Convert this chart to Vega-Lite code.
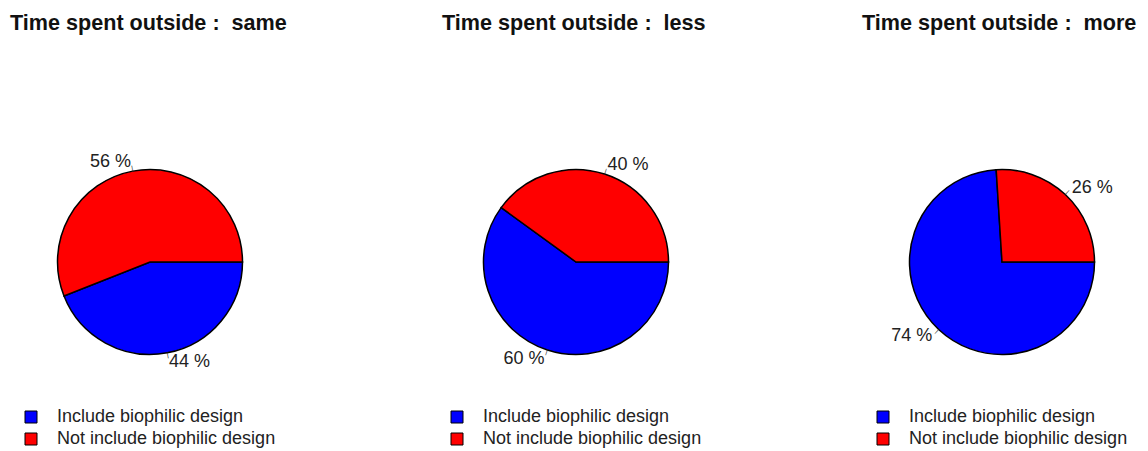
{
  "$schema": "https://vega.github.io/schema/vega-lite/v6.json",
  "padding": {"left": 10, "top": 13, "right": 0, "bottom": 0},
  "bounds": "flush",
  "spacing": 146,
  "data": {"values": [
    {"group": "same", "category": "Include biophilic design", "value": 44, "label": "44 %"},
    {"group": "same", "category": "Not include biophilic design", "value": 56, "label": "56 %"},
    {"group": "less", "category": "Include biophilic design", "value": 60, "label": "60 %"},
    {"group": "less", "category": "Not include biophilic design", "value": 40, "label": "40 %"},
    {"group": "more", "category": "Include biophilic design", "value": 74, "label": "74 %"},
    {"group": "more", "category": "Not include biophilic design", "value": 26, "label": "26 %"}
  ]},
  "hconcat": [
    {
      "title": {"text": "Time spent outside :\u00a0 same", "dx": 0},
      "width": 280, "height": 364,
      "transform": [{"filter": "datum.group === 'same'"}],
      "encoding": {
        "theta": {"field": "value", "type": "quantitative", "stack": true, "scale": {"domain": [0, 100], "range": [1.5707963, -4.712389]}},
        "order": {"field": "category", "type": "ordinal", "sort": "descending"},
        "color": {"field": "category", "type": "nominal", "scale": {"domain": ["Include biophilic design", "Not include biophilic design"], "range": ["#0000ff", "#ff0000"]}, "legend": {"orient": "none", "legendX": 12, "legendY": 328}}
      },
      "layer": [
        {"mark": {"type": "arc", "outerRadius": 92.5, "stroke": "black", "strokeWidth": 1.5}},
        {"mark": {"type": "text", "radius": 95, "text": "|", "fontSize": 7, "baseline": "middle", "align": "center", "angle": {"expr": "datum.category === 'Include biophilic design' ? 90 + 1.8*datum.value : 90 - 1.8*datum.value"}}, "encoding": {"color": {"value": "#222"}}},
        {"mark": {"type": "text", "radius": 101.75, "fontSize": 18, "baseline": "middle", "align": {"expr": "sin((datum.category === 'Include biophilic design' ? 90 + 1.8*datum.value : 90 - 1.8*datum.value)*PI/180) < 0 ? 'right' : 'left'"}}, "encoding": {"text": {"field": "label"}, "color": {"value": "#222"}}}
      ]
    },
    {
      "title": {"text": "Time spent outside :\u00a0 less", "dx": 6},
      "width": 280, "height": 364,
      "transform": [{"filter": "datum.group === 'less'"}],
      "encoding": {
        "theta": {"field": "value", "type": "quantitative", "stack": true, "scale": {"domain": [0, 100], "range": [1.5707963, -4.712389]}},
        "order": {"field": "category", "type": "ordinal", "sort": "descending"},
        "color": {"field": "category", "type": "nominal", "scale": {"domain": ["Include biophilic design", "Not include biophilic design"], "range": ["#0000ff", "#ff0000"]}, "legend": {"orient": "none", "legendX": 12, "legendY": 328}}
      },
      "layer": [
        {"mark": {"type": "arc", "outerRadius": 92.5, "stroke": "black", "strokeWidth": 1.5}},
        {"mark": {"type": "text", "radius": 95, "text": "|", "fontSize": 7, "baseline": "middle", "align": "center", "angle": {"expr": "datum.category === 'Include biophilic design' ? 90 + 1.8*datum.value : 90 - 1.8*datum.value"}}, "encoding": {"color": {"value": "#222"}}},
        {"mark": {"type": "text", "radius": 101.75, "fontSize": 18, "baseline": "middle", "align": {"expr": "sin((datum.category === 'Include biophilic design' ? 90 + 1.8*datum.value : 90 - 1.8*datum.value)*PI/180) < 0 ? 'right' : 'left'"}}, "encoding": {"text": {"field": "label"}, "color": {"value": "#222"}}}
      ]
    },
    {
      "title": {"text": "Time spent outside :\u00a0 more", "dx": 0},
      "width": 280, "height": 364,
      "transform": [{"filter": "datum.group === 'more'"}],
      "encoding": {
        "theta": {"field": "value", "type": "quantitative", "stack": true, "scale": {"domain": [0, 100], "range": [1.5707963, -4.712389]}},
        "order": {"field": "category", "type": "ordinal", "sort": "descending"},
        "color": {"field": "category", "type": "nominal", "scale": {"domain": ["Include biophilic design", "Not include biophilic design"], "range": ["#0000ff", "#ff0000"]}, "legend": {"orient": "none", "legendX": 12, "legendY": 328}}
      },
      "layer": [
        {"mark": {"type": "arc", "outerRadius": 92.5, "stroke": "black", "strokeWidth": 1.5}},
        {"mark": {"type": "text", "radius": 95, "text": "|", "fontSize": 7, "baseline": "middle", "align": "center", "angle": {"expr": "datum.category === 'Include biophilic design' ? 90 + 1.8*datum.value : 90 - 1.8*datum.value"}}, "encoding": {"color": {"value": "#222"}}},
        {"mark": {"type": "text", "radius": 101.75, "fontSize": 18, "baseline": "middle", "align": {"expr": "sin((datum.category === 'Include biophilic design' ? 90 + 1.8*datum.value : 90 - 1.8*datum.value)*PI/180) < 0 ? 'right' : 'left'"}}, "encoding": {"text": {"field": "label"}, "color": {"value": "#222"}}}
      ]
    }
  ],
  "resolve": {"legend": {"color": "independent"}},
  "config": {
    "view": {"stroke": null},
    "font": "Liberation Sans",
    "title": {"fontSize": 21.6, "fontWeight": "bold", "anchor": "start", "color": "#111", "offset": 45, "font": "Liberation Sans"},
    "legend": {"title": null, "padding": 0, "symbolType": "square", "symbolSize": 144, "symbolStrokeColor": "black", "symbolStrokeWidth": 1, "symbolOpacity": 1, "labelFontSize": 18, "labelFont": "Liberation Sans", "labelColor": "#222", "labelOffset": 17, "rowPadding": 4, "labelLimit": 400}
  }
}
